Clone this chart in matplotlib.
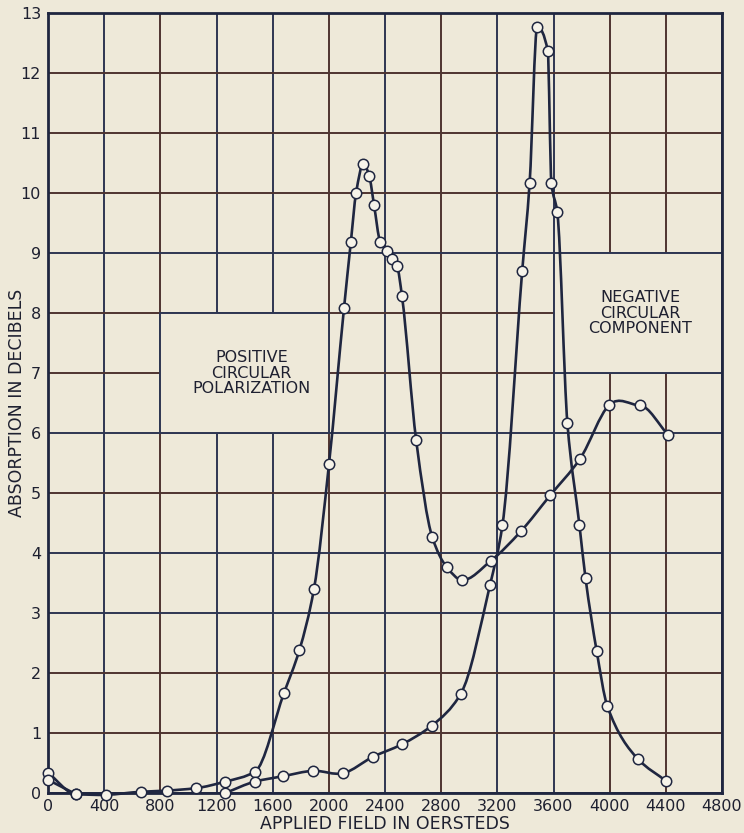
import numpy as np
import matplotlib
matplotlib.use("Agg")
import matplotlib.pyplot as plt
from matplotlib.path import Path
from matplotlib.patches import PathPatch, Rectangle

# ---------------- data ----------------
pos_x = [0, 199, 413, 660, 845, 1052, 1263, 1474, 1681, 1790, 1894, 2001, 2108,
         2157, 2194, 2246, 2287, 2322, 2365, 2413, 2450, 2486, 2521, 2622, 2737,
         2841, 2946, 3154, 3367, 3576, 3789, 3998, 4214, 4416]
pos_y = [0.34, -0.02, -0.03, 0.02, 0.04, 0.08, 0.19, 0.355, 1.67, 2.38, 3.4, 5.48,
         8.08, 9.19, 10.0, 10.49, 10.29, 9.8, 9.19, 9.03, 8.9, 8.78, 8.28, 5.88,
         4.26, 3.76, 3.55, 3.87, 4.36, 4.96, 5.57, 6.47, 6.46, 5.97]

neg_x = [1263, 1474, 1674, 1890, 2103, 2312, 2519, 2732, 2939, 3148, 3236, 3377,
         3430, 3484, 3559, 3585, 3627, 3699, 3785, 3828, 3908, 3983, 4204, 4402]
neg_y = [0.0, 0.19, 0.28, 0.37, 0.33, 0.6, 0.81, 1.12, 1.65, 3.47, 4.46, 8.7,
         10.17, 12.77, 12.37, 10.17, 9.68, 6.16, 4.46, 3.58, 2.36, 1.45, 0.56, 0.2]

start_x = [0, 199]
start_y = [0.22, -0.02]

x_ticks = list(range(0, 4801, 400))
y_ticks = list(range(0, 14))

label_pos = "POSITIVE\nCIRCULAR\nPOLARIZATION"
label_neg = "NEGATIVE\nCIRCULAR\nCOMPONENT"
x_label = "APPLIED FIELD IN OERSTEDS"
y_label = "ABSORPTION IN DECIBELS"

# ---------------- style ----------------
bg = "#eee9d9"
navy = "#1f2640"
gnavy = "#2e3652"
gbrown = "#4e3430"
txt = "#1e2030"
plt.rcParams["font.family"] = ["DejaVu Sans"]

fig = plt.figure(figsize=(7.44, 8.33), dpi=100)
fig.patch.set_facecolor(bg)
ax = fig.add_axes([48 / 744, 1 - 793 / 833, 674 / 744, 780 / 833])
ax.set_facecolor(bg)
ax.set_xlim(0, 4800)
ax.set_ylim(0, 13)


def smooth_path(xs, ys):
    """Smooth cubic Hermite curve (monotone where steep) through the points."""
    x = np.asarray(xs, float)
    y = np.asarray(ys, float)
    n = len(x)
    h = np.diff(x)
    d = np.diff(y) / h
    m = np.zeros(n)
    if n > 2:
        for i in range(1, n - 1):
            if d[i - 1] * d[i] > 0:
                w1 = 2 * h[i] + h[i - 1]
                w2 = h[i] + 2 * h[i - 1]
                m[i] = (w1 + w2) / (w1 / d[i - 1] + w2 / d[i])
            elif max(abs(d[i - 1]), abs(d[i])) < 0.005:
                # gentle turning point: let the curve round over smoothly
                m[i] = 0.5 * (d[i - 1] + d[i])
            else:
                m[i] = 0.0
        m[0] = d[0]
        m[-1] = d[-1]
    else:
        m[:] = d[0]
    verts = [(x[0], y[0])]
    codes = [Path.MOVETO]
    for i in range(n - 1):
        hh = h[i]
        verts += [(x[i] + hh / 3, y[i] + m[i] * hh / 3),
                  (x[i + 1] - hh / 3, y[i + 1] - m[i + 1] * hh / 3),
                  (x[i + 1], y[i + 1])]
        codes += [Path.CURVE4] * 3
    return Path(verts, codes)


# grid lines
vcols = [gnavy, gnavy, gbrown, gnavy, gnavy, gbrown, gnavy, gbrown, gnavy,
         gnavy, gbrown, gbrown, gnavy]
hcols = [gnavy, gbrown, gbrown, gnavy, gnavy, gbrown, gnavy, gbrown, gbrown,
         gnavy, gbrown, gbrown, gbrown, gnavy]
for xv, c in zip(x_ticks, vcols):
    ax.axvline(xv, color=c, lw=1.4, zorder=1)
for yv, c in zip(y_ticks, hcols):
    ax.axhline(yv, color=c, lw=1.4, zorder=1)

# text boxes that interrupt the grid
ax.add_patch(Rectangle((800, 6), 1200, 2, facecolor=bg, edgecolor=gnavy,
                       lw=1.4, zorder=1.5))
ax.add_patch(Rectangle((3600, 7), 1200, 2, facecolor=bg, edgecolor=gnavy,
                       lw=1.4, zorder=1.5))

# curves
for xs, ys in [(pos_x, pos_y), (neg_x, neg_y), (start_x, start_y)]:
    ax.add_patch(PathPatch(smooth_path(xs, ys), fill=False, edgecolor=navy,
                           lw=1.9, zorder=3, capstyle="round", joinstyle="round",
                           clip_on=False))
    ax.plot(xs, ys, "o", ls="none", ms=7.5, mfc="#f7f4ea", mec=navy, mew=1.1,
            zorder=4, clip_on=False)

ax.text(1450, 7.0, label_pos, ha="center", va="center", fontsize=11.5,
        color=txt, linespacing=1.05, zorder=5)
ax.text(4220, 8.0, label_neg, ha="center", va="center", fontsize=11.5,
        color=txt, linespacing=1.05, zorder=5)

# axes styling
for s in ax.spines.values():
    s.set_color(navy)
    s.set_linewidth(2)
    s.set_zorder(2)
ax.set_xticks(x_ticks)
ax.set_yticks(y_ticks)
ax.tick_params(length=0, labelsize=11.5, colors=txt, pad=4)
ax.tick_params(axis="y", pad=5)
ax.set_xlabel(x_label, fontsize=12.5, color=txt, labelpad=1)
fig.text(17 / 744, 1 - 403 / 833, y_label, rotation=90, ha="center",
         va="center", fontsize=12.5, color=txt)

fig.savefig("out.png", dpi=100, facecolor=bg)
